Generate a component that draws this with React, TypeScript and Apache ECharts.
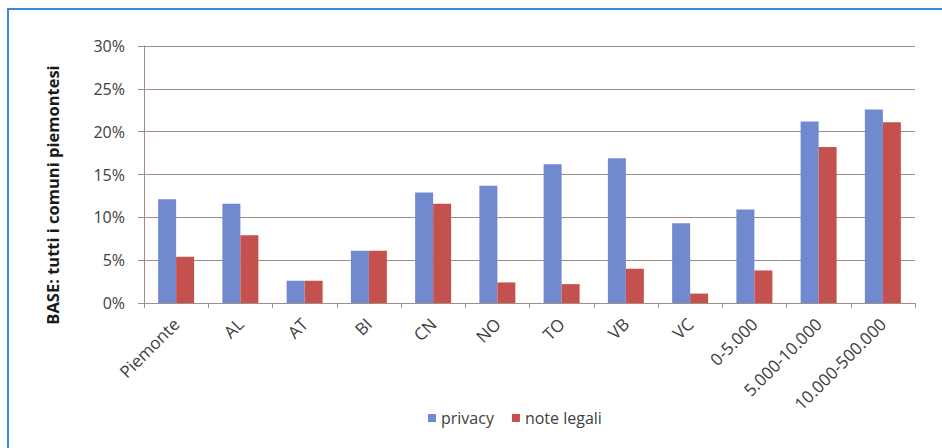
import React, { useEffect, useRef } from "react";
import * as echarts from "echarts";

const categories = ["Piemonte", "AL", "AT", "BI", "CN", "NO", "TO", "VB", "VC", "0-5.000", "5.000-10.000", "10.000-500.000"];
const privacy = [12.1, 11.6, 2.6, 6.1, 12.9, 13.7, 16.2, 16.9, 9.3, 10.9, 21.2, 22.6];
const noteLegali = [5.4, 7.9, 2.6, 6.1, 11.6, 2.4, 2.2, 4.0, 1.1, 3.8, 18.2, 21.1];
const yTicks = [0, 5, 10, 15, 20, 25, 30];
const yAxisTitle = "BASE: tutti i comuni piemontesi";

const FONT = "'Open Sans', 'Noto Sans', sans-serif";

export default function App() {
  const ref = useRef<HTMLDivElement>(null);
  useEffect(() => {
    if (!ref.current) return;
    const chart = echarts.init(ref.current, null, { renderer: "svg" });
    chart.setOption({
      animation: false,
      backgroundColor: "#ffffff",
      textStyle: { fontFamily: FONT },
      graphic: [
        {
          type: "rect",
          shape: { x: 8, y: 9, width: 1000, height: 500 },
          style: { fill: "none", stroke: "#3b8ad3", lineWidth: 2 },
          silent: true,
        },
        {
          type: "text",
          x: 52,
          y: 195,
          rotation: Math.PI / 2,
          style: {
            text: yAxisTitle,
            fontSize: 16.5,
            fontWeight: "bold",
            fill: "#1a1a1a",
            fontFamily: FONT,
            textAlign: "center",
            textVerticalAlign: "middle",
          },
          silent: true,
        },
      ],
      grid: { left: 144, right: 27, top: 46, bottom: 145 },
      legend: {
        data: ["privacy", "note legali"],
        left: 423,
        top: 405,
        itemWidth: 8,
        itemHeight: 8,
        itemGap: 18,
        icon: "rect",
        textStyle: { fontSize: 16, color: "#404040", fontFamily: FONT },
      },
      xAxis: {
        type: "category",
        data: categories,
        axisLine: { lineStyle: { color: "#a08c88", width: 1 } },
        axisTick: { show: true, length: 5, alignWithLabel: false, lineStyle: { color: "#a08c88" } },
        axisLabel: { rotate: 45, fontSize: 17, color: "#404040", margin: 18, interval: 0, fontFamily: FONT },
      },
      yAxis: {
        type: "value",
        min: yTicks[0],
        max: yTicks[yTicks.length - 1],
        interval: 5,
        axisLine: { show: true, lineStyle: { color: "#a08c88" } },
        axisTick: { show: true, length: 6, lineStyle: { color: "#a08c88" } },
        axisLabel: { formatter: "{value}%", fontSize: 16, color: "#404040", margin: 19, fontFamily: FONT },
        splitLine: { lineStyle: { color: "#a08c88", width: 1 } },
      },
      series: [
        {
          name: "privacy",
          type: "bar",
          data: privacy,
          itemStyle: { color: "#7189cf" },
          barGap: "0%",
          barCategoryGap: "44%",
        },
        {
          name: "note legali",
          type: "bar",
          data: noteLegali,
          itemStyle: { color: "#c4514e" },
          barGap: "0%",
          barCategoryGap: "44%",
        },
      ],
    });
    return () => chart.dispose();
  }, []);
  return (
    <div
      ref={ref}
      style={{ position: "fixed", left: 0, top: 0, width: 942, height: 448 }}
    />
  );
}
